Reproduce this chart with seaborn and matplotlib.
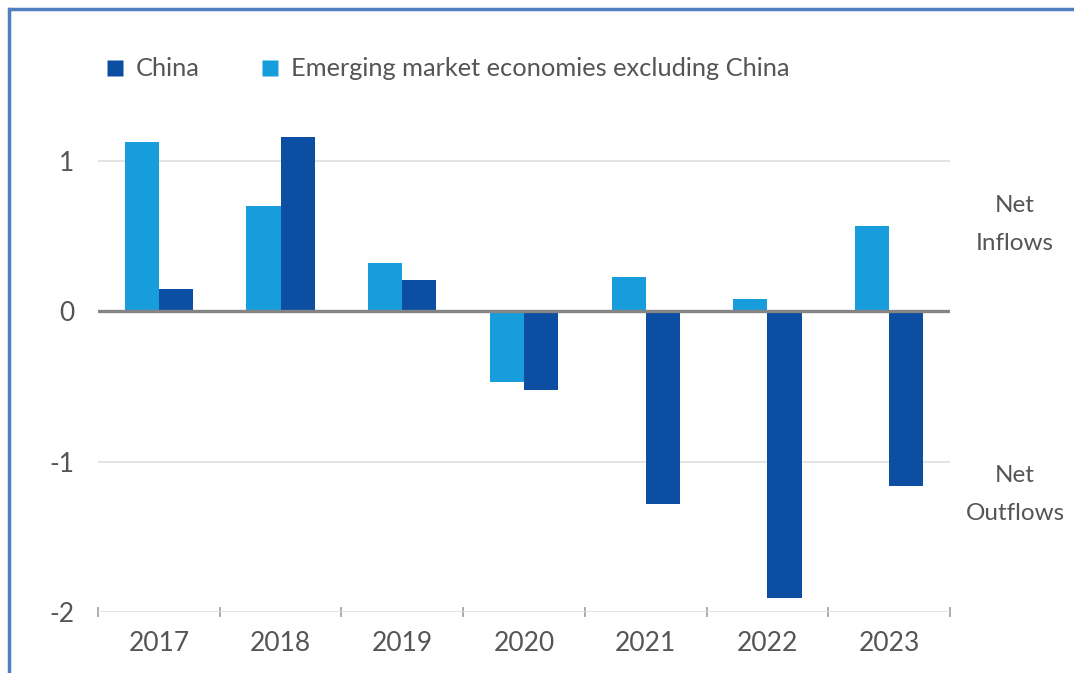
import matplotlib
matplotlib.use("Agg")
import matplotlib.pyplot as plt
from matplotlib.lines import Line2D
import numpy as np
import pandas as pd
import seaborn as sns

# Net portfolio flows by year
years = ["2017", "2018", "2019", "2020", "2021", "2022", "2023"]
china = [0.15, 1.16, 0.21, -0.52, -1.28, -1.91, -1.16]
em_ex_china = [1.13, 0.70, 0.32, -0.47, 0.23, 0.08, 0.57]
series_names = ["China", "Emerging market economies excluding China"]
y_ticks = [-2, -1, 0, 1]

CHINA_COLOR = "#0b4ea2"
EM_COLOR = "#189ddc"
TEXT_COLOR = "#555555"
FRAME_COLOR = "#4f7fbf"

df = pd.DataFrame({
    "year": years * 2,
    "value": em_ex_china + china,
    "series": [series_names[1]] * len(years) + [series_names[0]] * len(years),
})

sns.set_theme(style="white")
plt.rcParams["font.family"] = ["Lato", "DejaVu Sans"]

fig = plt.figure(figsize=(10.74, 6.73), dpi=100)
ax = fig.add_axes([98 / 1074, (673 - 612) / 673, (950 - 98) / 1074, (612 - 116) / 673])

sns.barplot(
    data=df, x="year", y="value", hue="series",
    hue_order=[series_names[1], series_names[0]],
    palette=[EM_COLOR, CHINA_COLOR], order=years,
    width=0.56, saturation=1, errorbar=None, legend=False, ax=ax, zorder=3,
)
for p in ax.patches:
    p.set_edgecolor("none")

ax.set_xlim(-0.5, len(years) - 0.5)
ax.set_ylim(-2, 1.3)

# grid lines and zero line
for v in y_ticks:
    if v == 0:
        ax.axhline(v, color="#858585", lw=2.4, zorder=4)
    else:
        ax.axhline(v, color="#e2e2e2", lw=1.3, zorder=1)

for s in ax.spines.values():
    s.set_visible(False)

ax.set_yticks(y_ticks)
ax.set_yticklabels([str(v) for v in y_ticks])
ax.set_xticks(range(len(years)))
ax.set_xticklabels(years)
ax.set_xticks(np.arange(-0.5, len(years), 1.0), minor=True)
ax.tick_params(axis="x", which="both", bottom=True)
ax.tick_params(axis="x", which="major", length=0, pad=14, labelsize=19, labelcolor=TEXT_COLOR)
ax.tick_params(axis="x", which="minor", length=7, width=1.4, color="#aaaaaa", direction="inout")
ax.tick_params(axis="y", left=False, length=0, pad=17, labelsize=19, labelcolor=TEXT_COLOR)
ax.set_xlabel("")
ax.set_ylabel("")

# legend
handles = [
    Line2D([], [], marker="s", color="none", markerfacecolor=CHINA_COLOR, markeredgecolor="none", markersize=12),
    Line2D([], [], marker="s", color="none", markerfacecolor=EM_COLOR, markeredgecolor="none", markersize=12),
]
fig.legend(handles, series_names, loc="center left", bbox_to_anchor=(82 / 1074, 1 - 69 / 673),
           ncol=2, frameon=False, fontsize=18.3, labelcolor=TEXT_COLOR,
           handlelength=0.8, handletextpad=0.4, columnspacing=2.4)

# flow direction annotations
fig.text(1015 / 1074, 1 - 225 / 673, "Net\nInflows", ha="center", va="center",
         fontsize=17.5, color=TEXT_COLOR, linespacing=2.0)
fig.text(1015 / 1074, 1 - 495 / 673, "Net\nOutflows", ha="center", va="center",
         fontsize=17.5, color=TEXT_COLOR, linespacing=2.0)

# panel frame: top and left edges only
fx, fy = 8.5 / 1074, 1 - 8.5 / 673
fig.add_artist(Line2D([fx, 1.2], [fy, fy], transform=fig.transFigure, color=FRAME_COLOR, lw=2.5))
fig.add_artist(Line2D([fx, fx], [-0.2, fy], transform=fig.transFigure, color=FRAME_COLOR, lw=2.5,
                      solid_capstyle="projecting"))

fig.savefig("out.png", dpi=100, facecolor="white")
